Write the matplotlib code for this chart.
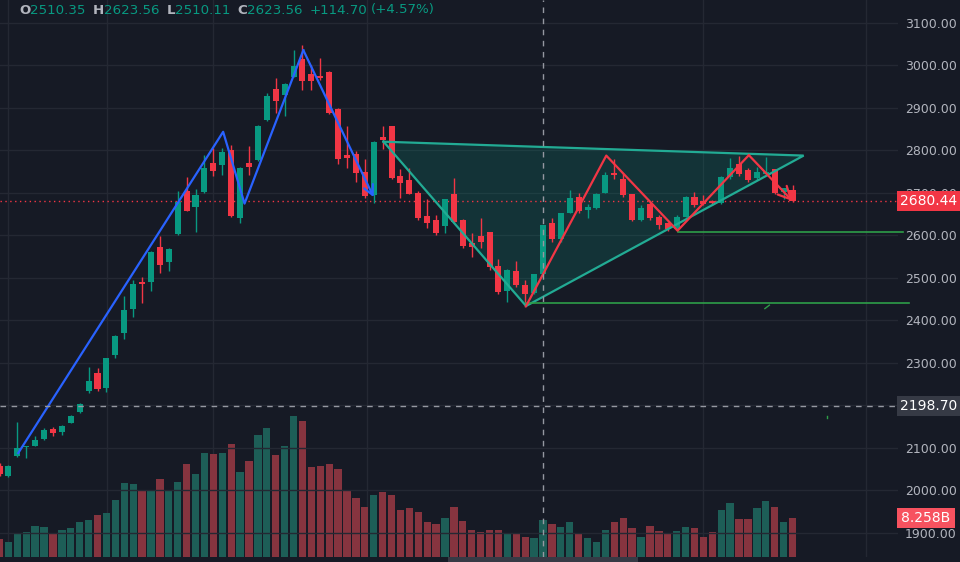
import matplotlib
matplotlib.use('Agg')
import matplotlib.pyplot as plt
import matplotlib.transforms as mtransforms
from matplotlib.patches import Rectangle, Polygon

# candles (index 0..89), prices
opens = [2057.6, 2034.1, 2081.2, 2102.4, 2105.4, 2120.5, 2144.0, 2137.6, 2159.5, 2184.7,
         2234.8, 2277.2, 2241.2, 2319.5, 2370.6, 2427.1, 2489.4, 2489.9, 2573.6, 2537.6,
         2602.8, 2705.4, 2667.8, 2703.0, 2770.6, 2765.9, 2801.2, 2641.9, 2770.6, 2777.6,
         2872.5, 2945.4, 2931.3, 2973.6, 3015.3, 2980.0, 2974.1, 2984.7, 2897.6, 2790.1,
         2791.0, 2748.7, 2695.3, 2832.5, 2857.6, 2740.0, 2730.6, 2699.3, 2645.9, 2636.5,
         2622.4, 2697.6, 2636.5, 2583.1, 2598.8, 2607.5, 2528.9, 2470.1, 2516.5, 2483.5,
         2464.0, 2510.35, 2630.1, 2592.5, 2653.6, 2691.3, 2660.0, 2664.0, 2700.7, 2745.9,
         2732.2, 2697.6, 2636.5, 2674.1, 2642.8, 2628.7, 2614.6, 2644.2, 2689.9, 2681.2,
         2680.0, 2676.5, 2736.9, 2768.2, 2754.1, 2734.6, 2745.4, 2755.8, 2701.6, 2707.0]
highs = [2064.7, 2060.0, 2161.2, 2105.5, 2128.2, 2147.0, 2148.7, 2153.5, 2176.5, 2205.0,
         2291.3, 2288.2, 2312.0, 2365.0, 2457.6, 2495.3, 2503.0, 2563.0, 2598.8, 2569.9,
         2705.4, 2738.3, 2708.7, 2789.4, 2805.2, 2805.2, 2812.9, 2761.0, 2810.6, 2859.0,
         2934.6, 2971.3, 2958.0, 3036.5, 3047.5, 3001.2, 3016.9, 2987.0, 2900.0, 2857.6,
         2798.8, 2779.3, 2822.0, 2857.6, 2858.0, 2755.8, 2758.1, 2705.4, 2685.2, 2648.2,
         2686.0, 2734.6, 2638.1, 2605.2, 2640.5, 2608.0, 2544.7, 2520.0, 2540.0, 2495.3,
         2510.0, 2623.56, 2640.5, 2653.0, 2707.0, 2699.3, 2673.4, 2699.0, 2750.1, 2779.3,
         2747.7, 2698.0, 2671.8, 2679.5, 2648.2, 2632.5, 2648.2, 2692.0, 2703.0, 2695.3,
         2683.5, 2739.0, 2781.6, 2787.0, 2758.1, 2761.9, 2785.4, 2757.0, 2712.0, 2718.8]
lows = [2034.1, 2032.0, 2078.8, 2077.2, 2104.0, 2119.0, 2128.2, 2131.3, 2158.0, 2183.0,
        2230.1, 2233.4, 2232.5, 2311.7, 2357.2, 2407.5, 2441.9, 2470.1, 2512.5, 2517.2,
        2600.0, 2657.6, 2607.5, 2700.0, 2740.7, 2742.3, 2644.2, 2630.1, 2742.3, 2775.0,
        2870.0, 2889.0, 2881.2, 2972.0, 2942.4, 2942.4, 2965.9, 2885.9, 2768.2, 2759.5,
        2726.6, 2687.5, 2677.2, 2802.8, 2733.0, 2687.5, 2697.0, 2636.5, 2616.9, 2601.2,
        2605.2, 2628.7, 2571.3, 2550.1, 2569.9, 2518.8, 2461.6, 2444.2, 2479.5, 2432.5,
        2462.0, 2510.11, 2585.4, 2585.4, 2652.0, 2652.2, 2641.9, 2663.0, 2699.0, 2732.2,
        2689.9, 2635.0, 2634.1, 2636.5, 2614.6, 2611.3, 2613.0, 2643.0, 2667.8, 2671.9,
        2672.0, 2675.0, 2732.2, 2740.0, 2726.6, 2730.6, 2744.7, 2698.0, 2685.2, 2679.0]
closes = [2038.8, 2057.6, 2100.0, 2104.7, 2118.8, 2142.3, 2134.6, 2152.5, 2175.3, 2203.5,
          2257.6, 2238.1, 2311.0, 2364.2, 2424.7, 2485.9, 2484.7, 2561.9, 2531.3, 2567.5,
          2679.5, 2658.4, 2695.3, 2758.8, 2751.8, 2796.5, 2646.6, 2759.5, 2761.9, 2857.6,
          2928.2, 2917.2, 2956.5, 2998.8, 2962.8, 2962.8, 2970.6, 2888.9, 2780.0, 2782.3,
          2746.3, 2692.9, 2820.7, 2824.7, 2734.6, 2722.8, 2697.6, 2640.5, 2630.1, 2606.6,
          2685.2, 2632.5, 2576.0, 2573.6, 2585.4, 2526.6, 2466.3, 2518.8, 2483.5, 2461.6,
          2508.86, 2623.56, 2592.5, 2652.2, 2688.9, 2657.6, 2667.8, 2697.6, 2742.3, 2742.3,
          2695.3, 2636.5, 2664.0, 2641.9, 2624.7, 2614.6, 2642.8, 2691.3, 2671.9, 2674.1,
          2676.5, 2737.6, 2758.1, 2744.0, 2730.6, 2748.7, 2749.4, 2699.3, 2711.0, 2680.44]
# volume in billions
volumes = [3.72, 3.21, 4.77, 5.25, 6.51, 6.24, 4.77, 5.74, 6.03, 7.29,
           7.77, 8.76, 9.24, 12.04, 15.55, 15.34, 14.08, 14.08, 16.32, 14.08,
           15.82, 19.60, 17.38, 21.85, 21.64, 21.85, 23.68, 17.86, 20.11, 25.63,
           27.10, 21.37, 23.32, 29.69, 28.64, 18.85, 19.12, 19.60, 18.55, 13.87,
           12.33, 10.51, 13.03, 13.59, 13.03, 9.81, 10.29, 9.52, 7.29, 7.00,
           8.26, 10.51, 7.50, 5.74, 5.25, 5.74, 5.74, 4.98, 4.98, 4.27,
           3.99, 7.77, 7.00, 6.24, 7.29, 4.77, 3.99, 3.21, 5.74, 7.29,
           8.26, 6.03, 4.27, 6.51, 5.46, 4.98, 5.46, 6.24, 6.03, 4.27,
           5.25, 9.81, 11.28, 7.98, 7.98, 10.29, 11.77, 10.51, 7.29, 8.258]

# drawings
blue_x = [2.1, 25.1, 27.5, 34.1, 42.0]
blue_y = [2088, 2844, 2675, 3036, 2690]
tri_x = [43.1, 59.1, 90.25]
tri_y = [2820.7, 2434.1, 2788.0]
red_x = [59.1, 68.1, 76.1, 84.1, 89.0]
red_y = [2434.1, 2788.0, 2611.3, 2789.0, 2681.0]
level_prices = [2607.4, 2440.6]
level_start = [76.1, 59.1]
level_end = [101.4, 102.1]

price_ticks = [1900, 2000, 2100, 2200, 2300, 2400, 2500, 2600, 2700, 2800, 2900, 3000, 3100]
time_grid = [0.96, 12.08, 24.0, 41.3, 79.0, 97.25]
cross_idx = 61
cross_price = 2198.70

BG = '#161a25'
GRID = '#242833'
UP = '#089981'
DOWN = '#f23645'
TXT = '#b2b5be'

fig = plt.figure(figsize=(9.6, 5.62), dpi=100, facecolor=BG)
rect = [0, 5 / 562, 898 / 960, 557 / 562]

vax = fig.add_axes(rect, facecolor=BG)
ax = fig.add_axes(rect, sharex=vax, facecolor='none')

n = len(closes)
idx = list(range(n))
up = [c >= o for o, c in zip(opens, closes)]

# volume pane
vcol = ['#1d5e57' if u else '#86343f' for u in up]
vax.bar(idx, volumes, width=0.82, color=vcol, linewidth=0)
vax.set_ylim(0, 117.0)
vax.set_yticks([])
vax.tick_params(axis='x', length=0, labelbottom=False)
vax.grid(False)
for s in vax.spines.values():
    s.set_visible(False)

# grid
for p in price_ticks:
    ax.axhline(p, color=GRID, lw=1, zorder=0)
for t in time_grid:
    vax.axvline(t, color=GRID, lw=1, zorder=0)

# triangle pattern fill
tri = Polygon(list(zip(tri_x, tri_y)), closed=True, facecolor=UP, alpha=0.2,
              edgecolor='none', zorder=1)
ax.add_patch(tri)

# candles
ccol = [UP if u else DOWN for u in up]
ax.vlines(idx, lows, highs, colors=ccol, lw=1, zorder=3)
bottoms = [min(o, c) for o, c in zip(opens, closes)]
heights = [max(abs(c - o), 1.8) for o, c in zip(opens, closes)]
ax.bar(idx, heights, bottom=bottoms, width=0.68, color=ccol, linewidth=0, zorder=4)

# triangle outline
tline = '#22ab94'
ax.plot(tri_x + [tri_x[0]], tri_y + [tri_y[0]], color=tline, lw=1.6, zorder=5,
        solid_joinstyle='miter')

# zigzags with arrow heads
ax.plot(blue_x[:-1], blue_y[:-1], color='#2962ff', lw=1.6, zorder=6)
ax.annotate('', xy=(blue_x[-1], blue_y[-1]), xytext=(blue_x[-2], blue_y[-2]),
            arrowprops=dict(arrowstyle='->,head_length=0.7,head_width=0.35', color='#2962ff',
                            lw=1.6, shrinkA=0, shrinkB=0), zorder=6)
ax.plot(red_x[:-1], red_y[:-1], color=DOWN, lw=1.6, zorder=6)
ax.annotate('', xy=(red_x[-1], red_y[-1]), xytext=(red_x[-2], red_y[-2]),
            arrowprops=dict(arrowstyle='->,head_length=0.9,head_width=0.45', color=DOWN,
                            lw=1.6, shrinkA=0, shrinkB=0), zorder=6)

# horizontal levels
for p, x0, x1 in zip(level_prices, level_start, level_end):
    ax.plot([x0, x1], [p, p], color='#2e9e48', lw=1.2, zorder=5, clip_on=False)

# tiny green marks
ax.plot([85.9, 86.4], [2428, 2436], color='#2e9e48', lw=1, zorder=5)
ax.plot([92.9, 92.9], [2170, 2176], color='#2e9e48', lw=1, zorder=5)

# last price line and crosshair
last_price = closes[-1]
ax.axhline(last_price, color=DOWN, lw=1, ls=(0, (1, 2.5)), zorder=2)
ax.axhline(cross_price, color='#9598a1', lw=1, ls=(0, (4, 4)), zorder=7)
ax.axvline(cross_idx, color='#9598a1', lw=1, ls=(0, (4, 4)), zorder=7)

ax.set_xlim(0.056, 100.84)
ax.set_ylim(1843.5, 3154.1)
ax.set_yticks(price_ticks)
ax.set_yticklabels(['%.2f' % p for p in price_ticks])
ax.yaxis.tick_right()
ax.tick_params(axis='y', length=0, pad=5, labelcolor=TXT, labelsize=9)
ax.tick_params(axis='x', length=0, labelbottom=False)
for s in ax.spines.values():
    s.set_visible(False)

# price axis labels
tr_price = mtransforms.blended_transform_factory(fig.transFigure, ax.transData)
tr_vol = mtransforms.blended_transform_factory(fig.transFigure, vax.transData)
x_box = 897 / 960
w_box = 63 / 960
h_price = 20 * (3154.1 - 1843.5) / 557
fig.add_artist(Rectangle((x_box, last_price - h_price / 2), w_box, h_price,
                         transform=tr_price, facecolor=DOWN, edgecolor='none', zorder=10))
fig.text(x_box + 0.5 * w_box, last_price, '%.2f' % last_price, transform=tr_price,
         ha='center', va='center', color='white', fontsize=10, zorder=11)
fig.add_artist(Rectangle((x_box, cross_price - h_price / 2), w_box, h_price,
                         transform=tr_price, facecolor='#363a45', edgecolor='none', zorder=10))
fig.text(x_box + 0.5 * w_box, cross_price, '%.2f' % cross_price, transform=tr_price,
         ha='center', va='center', color='white', fontsize=10, zorder=11)
h_vol = 20 * 117.0 / 557
fig.add_artist(Rectangle((x_box, volumes[-1] - h_vol / 2), 58 / 960, h_vol,
                         transform=tr_vol, facecolor='#f7525f', edgecolor='none', zorder=10))
fig.text(x_box + 29 / 960, volumes[-1], '%.3fB' % volumes[-1], transform=tr_vol,
         ha='center', va='center', color='white', fontsize=10, zorder=11)

# time-axis crosshair label (cut off at the bottom)
tr_time = mtransforms.blended_transform_factory(ax.transData, fig.transFigure)
fig.add_artist(Rectangle((cross_idx - 10.7, 0), 21.4, 5 / 562, transform=tr_time,
                         facecolor='#363a45', edgecolor='none', zorder=10))

# OHLC header for the crosshair candle
o, h, l, c = opens[cross_idx], highs[cross_idx], lows[cross_idx], closes[cross_idx]
chg = c - closes[cross_idx - 1]
parts = [('O', TXT, 0), ('%.2f' % o, UP, 0), ('H', TXT, 5), ('%.2f' % h, UP, 0),
         ('L', TXT, 5), ('%.2f' % l, UP, 0), ('C', TXT, 5), ('%.2f' % c, UP, 0),
         ('%+.2f' % chg, UP, 5), ('(%+.2f%%)' % (chg / closes[cross_idx - 1] * 100), UP, 3)]
prev = fig.text(19 / 960, 1 - 10 / 562, parts[0][0], color=parts[0][1], fontsize=9.6,
                va='center', ha='left', fontweight='bold')
for txt, col, gap in parts[1:]:
    prev = ax.annotate(txt, xy=(1, 0.5), xycoords=prev, xytext=(gap, 0),
                       textcoords='offset points', va='center', ha='left', color=col,
                       fontsize=9.6, fontweight='bold' if len(txt) == 1 else 'normal',
                       annotation_clip=False)

fig.savefig('out.png', dpi=100, facecolor=BG)
